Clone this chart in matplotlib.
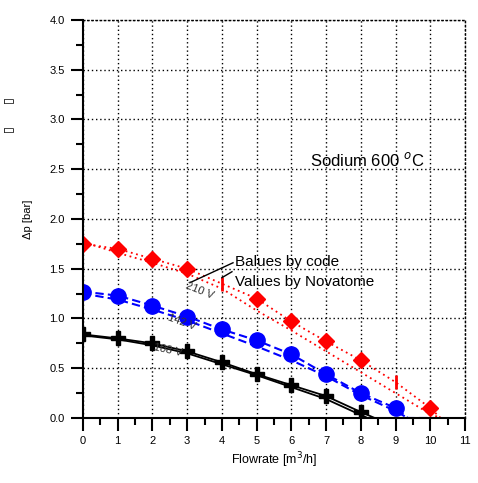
import matplotlib
matplotlib.use('Agg')
import matplotlib.pyplot as plt
from matplotlib.ticker import MultipleLocator

plt.rcParams['font.family'] = ['Liberation Sans', 'DejaVu Sans']

# flowrate [m3/h]
flow_red = [0, 1, 2, 3, 4, 5, 6, 7, 8, 9, 10, 10.3, 11]
flow_blue = [0, 1, 2, 3, 4, 5, 6, 7, 8, 9, 9.35, 10.1]
flow_black = [0, 1, 2, 3, 4, 5, 6, 7, 8, 8.4]

# 210 V (red)
dp_red_code = [1.75, 1.70, 1.60, 1.50, 1.35, 1.20, 0.97, 0.77, 0.58, 0.36, 0.10, 0.0, 0.0]
dp_red_nova = [1.77, 1.66, 1.56, 1.45, 1.30, 1.08, 0.88, 0.67, 0.46, 0.25, 0.04, 0.0]
# 142 V (blue)
dp_blue_code = [1.27, 1.23, 1.13, 1.02, 0.89, 0.78, 0.64, 0.44, 0.25, 0.10, 0.0, 0.0]
dp_blue_nova = [1.25, 1.19, 1.09, 0.98, 0.85, 0.72, 0.58, 0.42, 0.23, 0.07, 0.0]
# 108 V (black)
dp_black_code = [0.84, 0.80, 0.75, 0.67, 0.56, 0.44, 0.33, 0.22, 0.06, 0.0]
dp_black_nova = [0.83, 0.79, 0.73, 0.65, 0.54, 0.43, 0.31, 0.19, 0.03, 0.0]

fig = plt.figure(figsize=(4.78, 4.83), dpi=100)
ax = fig.add_axes([0.1736, 0.1346, 0.7992, 0.824])

dot = (1, 2)

# red
ax.plot(flow_red[:11], dp_red_nova[:11], color='red', ls=':', lw=1.3, dashes=dot)
ax.plot(flow_red[10:12], [dp_red_nova[10], 0.0], color='red', ls=':', lw=1.3, dashes=dot)
ax.plot(flow_red, dp_red_code, color='red', ls=':', lw=1.3, dashes=dot)
idx_d = [0, 1, 2, 3, 5, 6, 7, 8, 10]
ax.plot([flow_red[i] for i in idx_d], [dp_red_code[i] for i in idx_d], ls='none',
        marker='D', ms=8, color='red')
ax.plot([flow_red[4], flow_red[9]], [dp_red_code[4], dp_red_code[9]], ls='none',
        marker='|', ms=10, mew=2, color='red')

# blue
ax.plot(flow_blue[:11], dp_blue_nova, color='blue', ls='--', lw=1.5, dashes=(4, 2))
ax.plot(flow_blue, dp_blue_code, color='blue', ls='--', lw=1.5, dashes=(4, 2))
ax.plot(flow_blue[:10], dp_blue_code[:10], ls='none', marker='o', ms=11, color='blue')

# black
ax.plot(flow_black[:9] + [8.2], dp_black_nova, color='black', lw=1.3)
ax.plot(flow_black, dp_black_code, color='black', lw=1.3)
ax.plot(flow_black[:9], dp_black_code[:9], ls='none', marker='P', ms=10, color='black')

ax.set_xlim(0, 11)
ax.set_ylim(0, 4.0)
ax.xaxis.set_major_locator(MultipleLocator(1))
ax.xaxis.set_minor_locator(MultipleLocator(0.5))
ax.yaxis.set_major_locator(MultipleLocator(0.5))
ax.yaxis.set_minor_locator(MultipleLocator(0.25))
ax.yaxis.set_major_formatter(plt.FormatStrFormatter('%.1f'))
ax.tick_params(which='major', direction='out', length=9, width=1.5, labelsize=8, pad=4)
ax.tick_params(which='minor', direction='out', length=5, width=1.5)
ax.grid(True, which='major', color='black', lw=1.0, dashes=dot)
for s in ['left', 'bottom']:
    ax.spines[s].set_linewidth(1.5)
for s in ['top', 'right']:
    ax.spines[s].set_linestyle((0, dot))
    ax.spines[s].set_linewidth(1.0)

ax.set_xlabel('Flowrate [m$^3$/h]', fontsize=9, labelpad=3)
ax.set_ylabel('Δp [bar]', fontsize=8, labelpad=12)

ax.text(6.54, 2.59, 'Sodium 600 $^{o}$C', fontsize=12, va='center')

ax.text(4.38, 1.57, 'Balues by code', fontsize=11, va='center')
ax.text(4.38, 1.37, 'Values by Novatome', fontsize=11, va='center')
ax.plot([4.32, 3.08], [1.56, 1.36], color='black', lw=1)
ax.plot([4.29, 4.0], [1.47, 1.41], color='black', lw=1)

ax.text(3.37, 1.28, '210 V', fontsize=8, color='#333333', rotation=-22,
        ha='center', va='center')
ax.text(2.85, 0.96, '142 V', fontsize=8, color='#333333', rotation=-20,
        ha='center', va='center')
ax.text(2.45, 0.68, '108 V', fontsize=8, color='#333333', rotation=-12,
        ha='center', va='center')

for yy in [0.793, 0.733]:
    fig.text(0.003, yy, '▯', rotation=90, fontsize=9, family='DejaVu Sans',
             va='center')

fig.savefig('out.png', dpi=100)
